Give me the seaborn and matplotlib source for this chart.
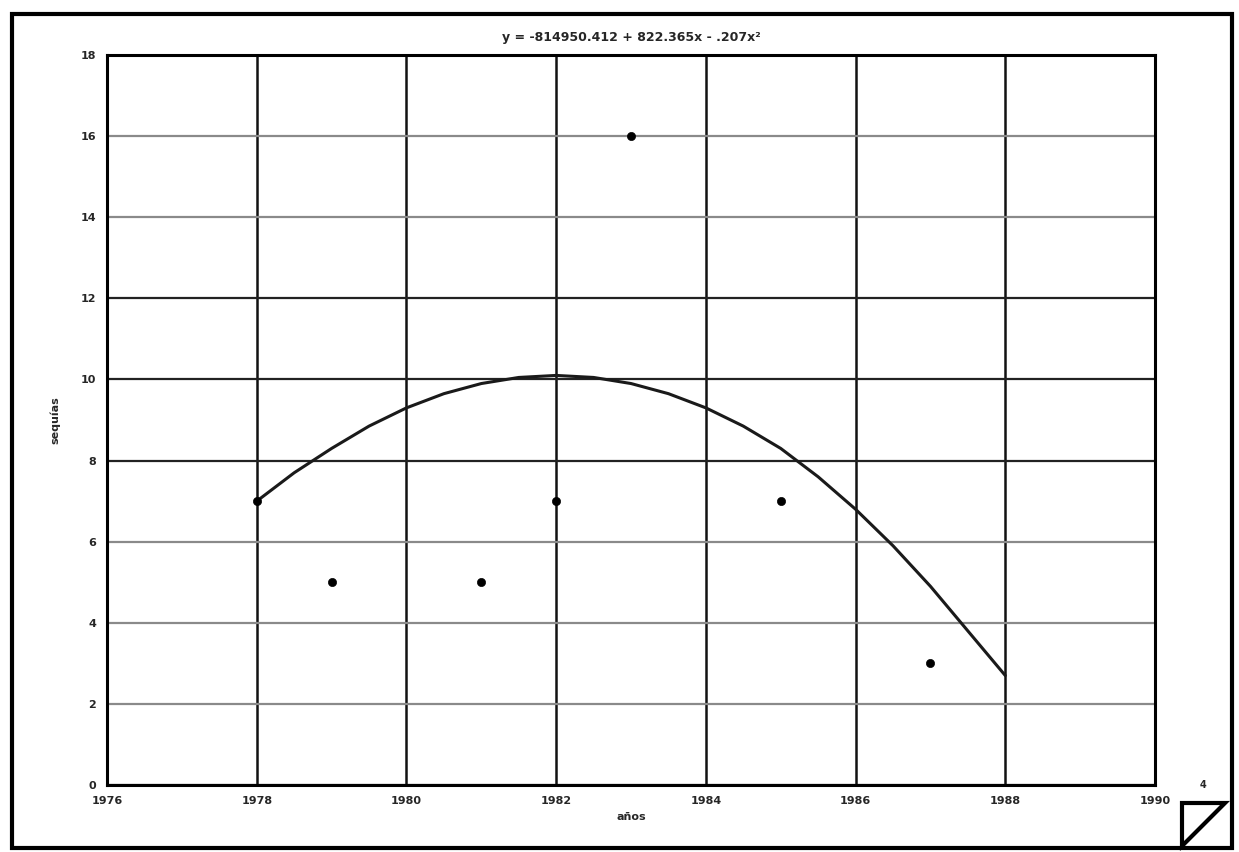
import matplotlib
matplotlib.use("Agg")
import matplotlib.pyplot as plt
import seaborn as sns
import pandas as pd
from matplotlib.patches import Rectangle, Polygon

# observed points
years = [1978, 1979, 1981, 1982, 1983, 1985, 1987]
counts = [7, 5, 5, 7, 16, 7, 3]

# trend curve (half-year steps)
curve_x = [1978, 1978.5, 1979, 1979.5, 1980, 1980.5, 1981, 1981.5, 1982, 1982.5,
           1983, 1983.5, 1984, 1984.5, 1985, 1985.5, 1986, 1986.5, 1987, 1987.5, 1988]
curve_y = [7.0, 7.7, 8.3, 8.85, 9.3, 9.65, 9.9, 10.05, 10.1, 10.05,
           9.9, 9.65, 9.3, 8.85, 8.3, 7.6, 6.8, 5.9, 4.9, 3.8, 2.7]

x_ticks = list(range(1976, 1991, 2))
y_ticks = list(range(0, 19, 2))
light_rows = [2, 4, 6, 14, 16]

title = "y = -814950.412 + 822.365x - .207x\u00b2"

pts = pd.DataFrame({"año": years, "n": counts})
trend = pd.DataFrame({"año": curve_x, "n": curve_y})

sns.set_style("white")
plt.rcParams["font.family"] = ["DejaVu Sans"]

fig = plt.figure(figsize=(12.39, 8.52), dpi=100)
ax = fig.add_axes([0.0864, 0.0786, 0.8458, 0.8568])

# grid
for xv in x_ticks:
    ax.axvline(xv, color="#111111", lw=1.8, zorder=1)
for yv in y_ticks:
    c = "#8a8a8a" if yv in light_rows else "#222222"
    ax.axhline(yv, color=c, lw=1.6, zorder=1)

sns.lineplot(data=trend, x="año", y="n", ax=ax, color="#1a1a1a", lw=2.2, zorder=3)
sns.scatterplot(data=pts, x="año", y="n", ax=ax, color="black", s=35,
                edgecolor="black", zorder=4)

ax.set_xlim(1976, 1990)
ax.set_ylim(0, 18)
ax.set_xticks(x_ticks)
ax.set_yticks(y_ticks)
ax.tick_params(labelsize=8, length=0, pad=8)
for lab in ax.get_xticklabels() + ax.get_yticklabels():
    lab.set_fontweight("bold")
ax.set_xlabel("años", fontsize=8, fontweight="bold", labelpad=4)
ax.set_ylabel("sequías", fontsize=8, fontweight="bold", labelpad=14)
ax.set_title(title, fontsize=9, fontweight="bold", pad=10)
for sp in ax.spines.values():
    sp.set_visible(True)
    sp.set_color("black")
    sp.set_linewidth(2.2)

# outer frame and corner mark
fig.patches.append(Rectangle((12 / 1239, 4 / 852), 1220 / 1239, 834 / 852,
                             transform=fig.transFigure, fill=False,
                             edgecolor="black", lw=3))
tri = [(1182 / 1239, 1 - 803 / 852), (1225 / 1239, 1 - 803 / 852), (1182 / 1239, 1 - 846 / 852)]
fig.patches.append(Polygon(tri, closed=True, transform=fig.transFigure, fill=False,
                           edgecolor="black", lw=3))
fig.text(1203 / 1239, 1 - 785 / 852, "4", fontsize=7, fontweight="bold",
         ha="center", va="center")

fig.savefig("out.png", dpi=100)
